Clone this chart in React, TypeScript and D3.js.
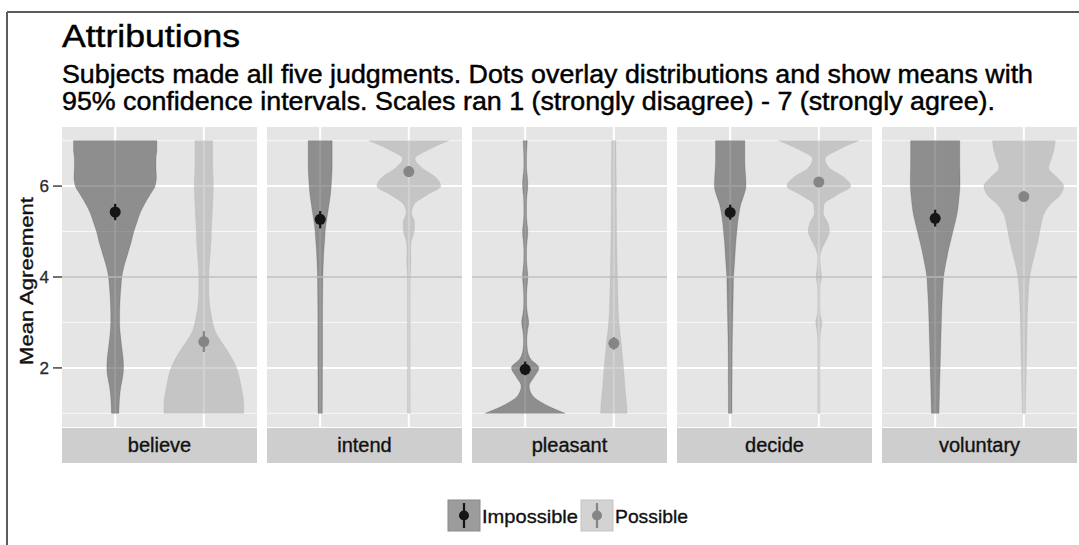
import React from "react";
import * as d3 from "d3";

// ---------- data ----------
const categories = ["believe", "intend", "pleasant", "decide", "voluntary"];
const conditions = ["Impossible", "Possible"];
const yMajorTicks = [2, 4, 6];
const yMinorTicks = [1, 3, 5, 7];
const referenceLine = 4;

const titleText = "Attributions";
const subtitleLines = [
  "Subjects made all five judgments. Dots overlay distributions and show means with",
  "95% confidence intervals. Scales ran 1 (strongly disagree) - 7 (strongly agree).",
];
const yAxisTitle = "Mean Agreement";

const meanImpossible = [5.43, 5.27, 1.97, 5.42, 5.29];
const ciLowImpossible = [5.25, 5.07, 1.84, 5.26, 5.11];
const ciHighImpossible = [5.61, 5.45, 2.14, 5.59, 5.48];
const meanPossible = [2.58, 6.32, 2.54, 6.09, 5.77];
const ciLowPossible = [2.35, 6.2, 2.4, 5.99, 5.67];
const ciHighPossible = [2.81, 6.44, 2.68, 6.19, 5.88];

// violin density evaluated on the agreement grid (half-width, in category units)
const agreementGrid = [
  1.0, 1.2, 1.4, 1.6, 1.8, 2.0, 2.2, 2.4, 2.6, 2.8, 3.0, 3.2, 3.4, 3.6, 3.8, 4.0,
  4.2, 4.4, 4.6, 4.8, 5.0, 5.2, 5.4, 5.6, 5.8, 6.0, 6.2, 6.4, 6.6, 6.8, 7.0,
];
const believeImpossible = [
  0.042, 0.045, 0.052, 0.065, 0.085, 0.094, 0.09, 0.078, 0.066, 0.055, 0.05, 0.05,
  0.053, 0.058, 0.066, 0.075, 0.095, 0.125, 0.155, 0.185, 0.21, 0.245, 0.28, 0.33,
  0.39, 0.45, 0.465, 0.46, 0.46, 0.47, 0.47,
];
const believePossible = [
  0.45, 0.45, 0.44, 0.42, 0.4, 0.37, 0.32, 0.26, 0.19, 0.13, 0.1, 0.08, 0.065,
  0.058, 0.056, 0.056, 0.06, 0.068, 0.075, 0.082, 0.085, 0.09, 0.095, 0.1, 0.105,
  0.107, 0.105, 0.1, 0.1, 0.1, 0.1,
];
const intendImpossible = [
  0.024, 0.024, 0.025, 0.025, 0.025, 0.026, 0.026, 0.026, 0.026, 0.026, 0.026,
  0.026, 0.027, 0.028, 0.029, 0.03, 0.033, 0.037, 0.042, 0.05, 0.056, 0.068,
  0.085, 0.1, 0.115, 0.124, 0.13, 0.135, 0.135, 0.135, 0.135,
];
const intendPossible = [
  0.015, 0.015, 0.015, 0.015, 0.015, 0.015, 0.015, 0.015, 0.015, 0.015, 0.015,
  0.015, 0.015, 0.015, 0.015, 0.016, 0.02, 0.025, 0.02, 0.03, 0.06, 0.065, 0.03,
  0.06, 0.2, 0.36, 0.3, 0.15, 0.07, 0.22, 0.45,
];
const pleasantImpossible = [
  0.45, 0.22, 0.08, 0.045, 0.1, 0.155, 0.06, 0.025, 0.018, 0.025, 0.04, 0.025,
  0.016, 0.016, 0.022, 0.03, 0.022, 0.015, 0.015, 0.022, 0.03, 0.02, 0.015, 0.015,
  0.02, 0.03, 0.025, 0.015, 0.015, 0.018, 0.023,
];
const pleasantPossible = [
  0.15, 0.145, 0.135, 0.125, 0.118, 0.11, 0.1, 0.09, 0.08, 0.068, 0.058, 0.052,
  0.048, 0.045, 0.042, 0.04, 0.038, 0.036, 0.034, 0.032, 0.031, 0.03, 0.029,
  0.028, 0.028, 0.028, 0.027, 0.026, 0.025, 0.024, 0.024,
];
const decideImpossible = [
  0.02, 0.02, 0.02, 0.021, 0.021, 0.022, 0.022, 0.023, 0.024, 0.026, 0.028, 0.03,
  0.032, 0.034, 0.036, 0.038, 0.045, 0.052, 0.058, 0.065, 0.075, 0.085, 0.1,
  0.12, 0.155, 0.178, 0.175, 0.168, 0.165, 0.165, 0.165,
];
const decidePossible = [
  0.012, 0.012, 0.012, 0.012, 0.012, 0.012, 0.012, 0.012, 0.013, 0.02, 0.035,
  0.015, 0.012, 0.012, 0.014, 0.03, 0.02, 0.012, 0.03, 0.08, 0.12, 0.1, 0.05,
  0.06, 0.2, 0.36, 0.28, 0.12, 0.07, 0.22, 0.45,
];
const voluntaryImpossible = [
  0.043, 0.045, 0.048, 0.05, 0.053, 0.056, 0.058, 0.061, 0.064, 0.067, 0.07,
  0.073, 0.077, 0.082, 0.088, 0.094, 0.11, 0.13, 0.15, 0.175, 0.2, 0.225, 0.248,
  0.262, 0.272, 0.28, 0.28, 0.278, 0.277, 0.277, 0.277,
];
const voluntaryPossible = [
  0.017, 0.019, 0.021, 0.023, 0.026, 0.028, 0.03, 0.032, 0.034, 0.036, 0.038,
  0.041, 0.045, 0.05, 0.057, 0.066, 0.085, 0.11, 0.135, 0.16, 0.18, 0.2, 0.23,
  0.3, 0.41, 0.45, 0.37, 0.28, 0.31, 0.34, 0.354,
];

const densityImpossible = [
  believeImpossible,
  intendImpossible,
  pleasantImpossible,
  decideImpossible,
  voluntaryImpossible,
];
const densityPossible = [
  believePossible,
  intendPossible,
  pleasantPossible,
  decidePossible,
  voluntaryPossible,
];

// ---------- styles ----------
const W = 1079;
const H = 545;
const FONT = "'Liberation Sans', Arial, Helvetica, sans-serif";
const styleByCondition: Record<string, any> = {
  Impossible: { fill: "#383838", dot: "#151515", key: "#9c9c9c", keyEdge: "#8a8a8a" },
  Possible: { fill: "#a6a6a6", dot: "#858585", key: "#d3d3d3", keyEdge: "#c3c3c3" },
};

export default function App() {
  const panelScale = d3
    .scaleBand<string>()
    .domain(categories)
    .range([62, 1077])
    .paddingInner(10 / 205)
    .paddingOuter(0);
  const panelTop = 127;
  const panelBottom = 427;
  const stripTop = 428;
  const stripBottom = 463;
  const yScale = d3.scaleLinear().domain([0.7, 7.3]).range([panelBottom, panelTop]);
  const bw = panelScale.bandwidth();

  const means: Record<string, number[]> = { Impossible: meanImpossible, Possible: meanPossible };
  const lows: Record<string, number[]> = { Impossible: ciLowImpossible, Possible: ciLowPossible };
  const highs: Record<string, number[]> = { Impossible: ciHighImpossible, Possible: ciHighPossible };
  const dens: Record<string, number[][]> = { Impossible: densityImpossible, Possible: densityPossible };

  const panelsLeft = panelScale(categories[0]) as number;

  // legend geometry
  const legendKeys = [
    { name: "Impossible", x: 448, textLen: 96 },
    { name: "Possible", x: 581, textLen: 73 },
  ];
  const keyY = 500;
  const keyW = 32;
  const keyH = 31;

  const heavy = { stroke: "currentColor", strokeWidth: 0.45 };

  return (
    <svg
      width={W}
      height={H}
      style={{ position: "absolute", left: 0, top: 0, background: "#fff" }}
      fontFamily={FONT}
    >
      <rect x={0} y={0} width={W} height={H} fill="#fff" />
      {/* outer frame */}
      <line x1={7} y1={12} x2={W} y2={12} stroke="#5c5c5c" strokeWidth={2} />
      <line x1={7} y1={12} x2={7} y2={H} stroke="#5c5c5c" strokeWidth={2} />

      {/* title */}
      <g color="#000">
        <text x={62} y={47} fontSize={32} fill="#000" textLength={178} lengthAdjust="spacingAndGlyphs" {...heavy}>
          {titleText}
        </text>
        <text x={62} y={83} fontSize={25.5} fill="#000" textLength={971} lengthAdjust="spacingAndGlyphs" {...heavy}>
          {subtitleLines[0]}
        </text>
        <text x={62} y={110} fontSize={25.5} fill="#000" textLength={933} lengthAdjust="spacingAndGlyphs" {...heavy}>
          {subtitleLines[1]}
        </text>
      </g>

      {/* y axis */}
      <g color="#111">
        <text
          transform={`translate(33, ${(panelTop + panelBottom) / 2 + 4}) rotate(-90)`}
          textAnchor="middle"
          fontSize={19}
          fill="#111"
          textLength={168}
          lengthAdjust="spacingAndGlyphs"
          stroke="#111"
          strokeWidth={0.35}
        >
          {yAxisTitle}
        </text>
      </g>
      {yMajorTicks.map((t) => (
        <g key={"yt" + t}>
          <line x1={panelsLeft - 9} x2={panelsLeft} y1={yScale(t)} y2={yScale(t)} stroke="#444" strokeWidth={1.5} />
          <text
            x={panelsLeft - 13}
            y={yScale(t)}
            dy="0.36em"
            textAnchor="end"
            fontSize={17}
            fill="#2a2a2a"
            stroke="#2a2a2a"
            strokeWidth={0.3}
          >
            {t}
          </text>
        </g>
      ))}

      {categories.map((cat, ci) => {
        const x0 = panelScale(cat) as number;
        const xs = d3.scalePoint<string>().domain(conditions).range([x0, x0 + bw]).padding(0.6);
        const step = xs.step();
        return (
          <g key={cat}>
            <rect x={x0} y={panelTop} width={bw} height={panelBottom - panelTop} fill="#e5e5e5" />
            {yMinorTicks.map((t) => (
              <line key={"mn" + t} x1={x0} x2={x0 + bw} y1={yScale(t)} y2={yScale(t)} stroke="#f7f7f7" strokeWidth={1} />
            ))}
            {yMajorTicks.map((t) => (
              <line key={"mj" + t} x1={x0} x2={x0 + bw} y1={yScale(t)} y2={yScale(t)} stroke="#ffffff" strokeWidth={2} />
            ))}
            {conditions.map((c) => (
              <line
                key={"vg" + c}
                x1={xs(c) as number}
                x2={xs(c) as number}
                y1={panelTop}
                y2={panelBottom}
                stroke="#ffffff"
                strokeWidth={2}
              />
            ))}
            {conditions.map((c) => {
              const cx = xs(c) as number;
              const pts: [number, number][] = agreementGrid
                .map((g, i) => [g, dens[c][ci][i]] as [number, number])
                .reverse();
              const area = d3
                .area<[number, number]>()
                .y((d) => yScale(d[0]))
                .x0((d) => cx - d[1] * step)
                .x1((d) => cx + d[1] * step)
                .curve(d3.curveMonotoneY);
              return (
                <path
                  key={"v" + c}
                  d={area(pts) || ""}
                  fill={styleByCondition[c].fill}
                  fillOpacity={0.5}
                  stroke={styleByCondition[c].fill}
                  strokeOpacity={0.25}
                  strokeWidth={0.8}
                />
              );
            })}
            <line
              x1={x0}
              x2={x0 + bw}
              y1={yScale(referenceLine)}
              y2={yScale(referenceLine)}
              stroke="#b3b3b3"
              strokeOpacity={0.7}
              strokeWidth={1.8}
            />
            {conditions.map((c) => {
              const cx = xs(c) as number;
              return (
                <g key={"m" + c}>
                  <line
                    x1={cx}
                    x2={cx}
                    y1={yScale(lows[c][ci])}
                    y2={yScale(highs[c][ci])}
                    stroke={styleByCondition[c].dot}
                    strokeWidth={2.2}
                  />
                  <circle cx={cx} cy={yScale(means[c][ci])} r={5.5} fill={styleByCondition[c].dot} />
                </g>
              );
            })}
            <rect x={x0} y={stripTop} width={bw} height={stripBottom - stripTop} fill="#cecece" />
            <text
              x={x0 + bw / 2}
              y={452}
              textAnchor="middle"
              fontSize={20}
              fill="#111"
              stroke="#111"
              strokeWidth={0.35}
            >
              {cat}
            </text>
          </g>
        );
      })}

      {/* legend */}
      {legendKeys.map((k) => {
        const s = styleByCondition[k.name];
        const cx = k.x + keyW / 2;
        const cy = keyY + keyH / 2;
        return (
          <g key={"lg" + k.name}>
            <rect x={k.x} y={keyY} width={keyW} height={keyH} fill={s.key} stroke={s.keyEdge} strokeWidth={1} />
            <line x1={cx} x2={cx} y1={keyY + 3} y2={keyY + keyH - 3} stroke={s.dot} strokeWidth={2.2} />
            <circle cx={cx} cy={cy} r={5} fill={s.dot} />
            <text
              x={k.x + keyW + 2}
              y={cy + 7}
              fontSize={19}
              fill="#111"
              stroke="#111"
              strokeWidth={0.35}
              textLength={k.textLen}
              lengthAdjust="spacingAndGlyphs"
            >
              {k.name}
            </text>
          </g>
        );
      })}
    </svg>
  );
}
